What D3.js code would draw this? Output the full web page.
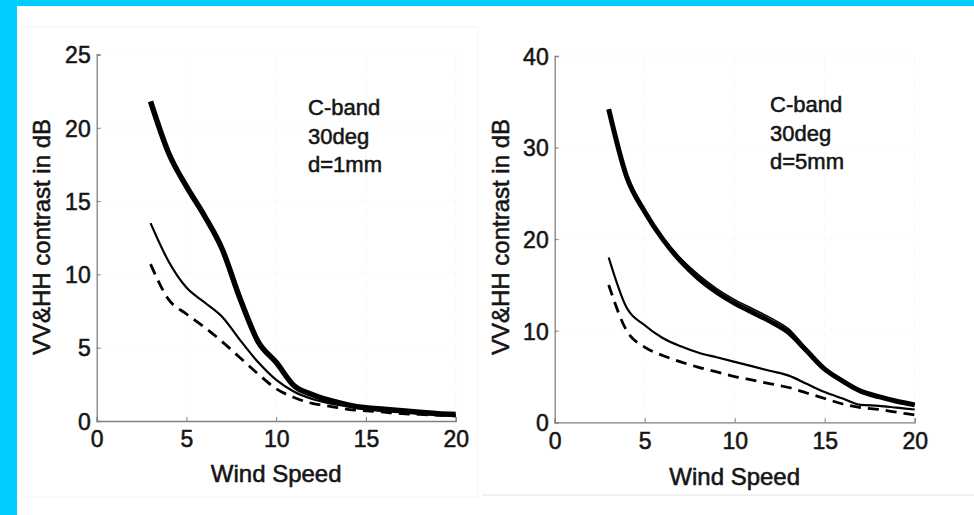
<!DOCTYPE html>
<html>
<head>
<meta charset="utf-8">
<script src="https://cdnjs.cloudflare.com/ajax/libs/d3/7.8.5/d3.min.js"></script>
<style>
  body { margin: 0; background: #00ccff; }
  svg { display: block; }
  text { font-family: "Liberation Sans", Arial, sans-serif; fill: #151515; stroke: #151515; stroke-width: 0.55px; }
</style>
</head>
<body>
<svg id="chart" width="974" height="515"></svg>
<script>
// wind speed samples (m/s)
const windSpeed = [3, 4, 5, 6, 7, 8, 9, 10, 11, 12, 13, 14, 15, 16, 17, 18, 19, 20];

// d = 1mm panel
const left_thick  = [21.8, 18.3, 16.0, 14.0, 11.7, 8.3, 5.4, 4.0, 2.4, 1.8, 1.4, 1.1, 0.9, 0.8, 0.7, 0.6, 0.5, 0.45];
const left_thin   = [13.5, 10.9, 9.1, 8.1, 7.1, 5.5, 4.0, 2.8, 2.0, 1.5, 1.2, 1.0, 0.8, 0.7, 0.6, 0.5, 0.45, 0.4];
const left_dashed = [10.7, 8.3, 7.3, 6.4, 5.4, 4.3, 3.2, 2.2, 1.6, 1.2, 1.0, 0.8, 0.7, 0.6, 0.5, 0.45, 0.4, 0.35];

// d = 5mm panel
const right_thick  = [34.2, 26.8, 23.0, 20.0, 17.6, 15.7, 14.2, 13.0, 12.0, 11.0, 9.8, 7.8, 5.8, 4.5, 3.4, 2.8, 2.3, 1.9];
const right_thick2 = [34.0, 26.7, 23.1, 20.2, 17.9, 16.1, 14.6, 13.4, 12.4, 11.4, 10.2, 8.0, 5.9, 4.6, 3.4, 2.8, 2.3, 1.9];
const right_thin   = [18.0, 12.5, 10.6, 9.2, 8.3, 7.6, 7.1, 6.6, 6.1, 5.6, 5.1, 4.2, 3.3, 2.6, 1.9, 1.8, 1.6, 1.4];
const right_dashed = [15.0, 10.0, 8.2, 7.3, 6.6, 6.0, 5.5, 5.0, 4.6, 4.2, 3.8, 3.2, 2.6, 2.0, 1.6, 1.4, 1.1, 0.8];

const xTicks = [0, 5, 10, 15, 20];
const leftYTicks = [0, 5, 10, 15, 20, 25];
const rightYTicks = [0, 10, 20, 30, 40];
const annoLeft = ['C-band', '30deg', 'd=1mm'];
const annoRight = ['C-band', '30deg', 'd=5mm'];

const svg = d3.select('#chart');

// white page area inside the cyan frame
svg.append('rect').attr('x', 17).attr('y', 6).attr('width', 957).attr('height', 509).attr('fill', '#fff');

// faint frames of the two figure panels
svg.append('rect').attr('x', 22).attr('y', 27).attr('width', 456).attr('height', 470)
  .attr('fill', 'none').attr('stroke', '#f4f4f4');
svg.append('line').attr('x1', 482).attr('x2', 974).attr('y1', 495).attr('y2', 495)
  .attr('stroke', '#ececec').attr('stroke-width', 1.5);

function drawPanel(cfg) {
  const x = d3.scaleLinear().domain([0, 20]).range(cfg.xRange);
  const y = d3.scaleLinear().domain(cfg.yDomain).range(cfg.yRange);
  const g = svg.append('g');

  // very faint dotted grid
  g.selectAll('.hgrid').data(cfg.yTicks.slice(1)).enter().append('line')
    .attr('x1', x(0)).attr('x2', x(20))
    .attr('y1', d => y(d)).attr('y2', d => y(d))
    .attr('stroke', '#f1f1f1').attr('stroke-dasharray', '1,3');
  g.selectAll('.vgrid').data(xTicks.slice(1)).enter().append('line')
    .attr('x1', d => x(d)).attr('x2', d => x(d))
    .attr('y1', y.range()[0]).attr('y2', y.range()[1])
    .attr('stroke', '#f6f6f6').attr('stroke-dasharray', '6,6');

  // axes
  const xAxis = d3.axisBottom(x).tickValues(xTicks).tickSize(-4).tickPadding(10);
  const yAxis = d3.axisLeft(y).tickValues(cfg.yTicks).tickSize(-4).tickPadding(6);

  const gx = g.append('g').attr('transform', 'translate(0,' + y(0) + ')').call(xAxis);
  const gy = g.append('g').attr('transform', 'translate(' + x(0) + ',0)').call(yAxis);

  [gx, gy].forEach(a => {
    a.select('.domain').attr('stroke', '#808080').attr('stroke-width', 1.3);
    a.selectAll('.tick line').attr('stroke', '#808080');
    a.selectAll('.tick text').attr('font-size', 23).attr('fill', '#151515')
      .style('font-family', '"Liberation Sans", Arial, sans-serif');
  });
  gx.selectAll('.tick text').attr('dy', '0.71em');
  gy.selectAll('.tick text').attr('dy', '0.36em');

  // curves
  const line = d3.line()
    .x((d, i) => x(windSpeed[i]))
    .y(d => y(d))
    .curve(d3.curveMonotoneX);

  cfg.series.forEach(s => {
    g.append('path')
      .datum(s.values)
      .attr('d', line)
      .attr('fill', 'none')
      .attr('stroke', '#000')
      .attr('stroke-width', s.width)
      .attr('stroke-dasharray', s.dash || null)
      .attr('stroke-linejoin', 'round');
  });

  // labels
  g.append('text')
    .attr('x', (x(0) + x(20)) / 2 + cfg.xLabelShift)
    .attr('y', cfg.xLabelY)
    .attr('text-anchor', 'middle')
    .attr('font-size', 24)
    .text('Wind Speed');

  g.append('text')
    .attr('transform', 'translate(' + cfg.yLabelX + ',237) rotate(-90)')
    .attr('text-anchor', 'middle')
    .attr('font-size', 24)
    .text('VV&HH contrast in dB');

  g.selectAll('.anno').data(cfg.anno).enter().append('text')
    .attr('x', cfg.annoX)
    .attr('y', (d, i) => cfg.annoY + i * 28.5)
    .attr('font-size', 22)
    .text(d => d);
}

drawPanel({
  xRange: [96.7, 455.7],
  yDomain: [0, 25],
  yRange: [421, 54.5],
  yTicks: leftYTicks,
  xLabelShift: 0,
  xLabelY: 482,
  yLabelX: 50,
  anno: annoLeft,
  annoX: 308,
  annoY: 115,
  series: [
    { values: left_thick, width: 5.5 },
    { values: left_thin, width: 2.2 },
    { values: left_dashed, width: 2.8, dash: '11,7' }
  ]
});

drawPanel({
  xRange: [554.7, 914.7],
  yDomain: [0, 40],
  yRange: [422.3, 56],
  yTicks: rightYTicks,
  xLabelShift: 0,
  xLabelY: 485,
  yLabelX: 509,
  anno: annoRight,
  annoX: 770,
  annoY: 112,
  series: [
    { values: right_thick, width: 5 },
    { values: right_thick2, width: 1.5 },
    { values: right_thin, width: 2.2 },
    { values: right_dashed, width: 2.8, dash: '11,7' }
  ]
});
</script>
</body>
</html>
